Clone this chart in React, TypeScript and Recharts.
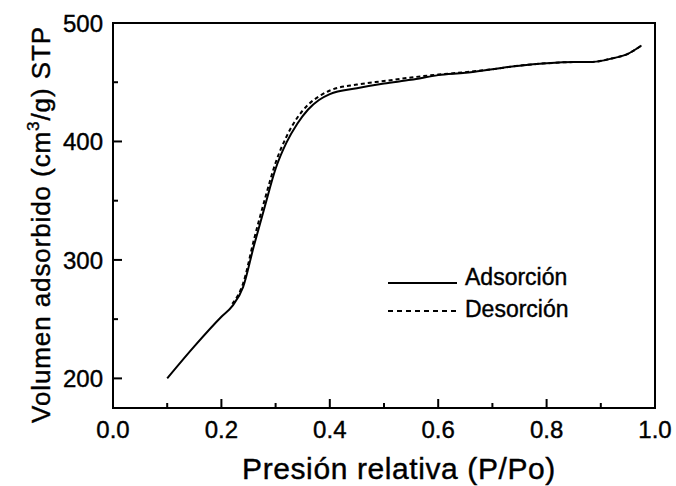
import React from 'react';
import { LineChart, Line, XAxis, YAxis, ReferenceArea, Legend } from 'recharts';

// isoterma de adsorción / desorción
const adsP = [0.1, 0.15, 0.2, 0.22, 0.24, 0.26, 0.28, 0.3, 0.32, 0.34, 0.36, 0.38, 0.4, 0.45, 0.5, 0.55, 0.6, 0.65, 0.7, 0.75, 0.8, 0.85, 0.88, 0.92, 0.95, 0.975];
const adsV = [200, 227, 252, 261, 277, 312, 345, 377, 399, 415, 427, 435, 440, 445, 449, 452, 456, 458, 461, 464, 466, 467, 467, 470, 474, 481];
const desP = [0.22, 0.24, 0.26, 0.28, 0.3, 0.32, 0.34, 0.36, 0.38, 0.4, 0.45, 0.5, 0.55, 0.6, 0.65, 0.7, 0.75, 0.8, 0.85, 0.88, 0.92, 0.95, 0.975];
const desV = [263, 280, 317, 351, 382, 404, 420, 431, 438, 443, 448, 451, 454, 456.5, 458.5, 461, 464, 466, 467, 467, 470, 474, 481];

const xTicks = [0, 0.1, 0.2, 0.3, 0.4, 0.5, 0.6, 0.7, 0.8, 0.9, 1.0];
const xMajor = [0, 0.2, 0.4, 0.6, 0.8, 1.0];
const yTicks = [200, 250, 300, 350, 400, 450, 500];
const yMajor = [200, 300, 400, 500];

const adsData = adsP.map((p, i) => ({ p, v: adsV[i] }));
const desData = desP.map((p, i) => ({ p, v: desV[i] }));

const FONT = '"Liberation Sans", Arial, sans-serif';
const txt = { fontFamily: FONT, fill: '#000', stroke: '#000', strokeWidth: 0.4 };

const isMajor = (list: number[], v: number) => list.some(m => Math.abs(m - v) < 1e-6);

const XTick = (props: any) => {
  const { x, y, payload } = props;
  const major = isMajor(xMajor, payload.value);
  return (
    <g>
      <line x1={x} x2={x} y1={y} y2={y - (major ? 9 : 5)} stroke="#000" strokeWidth={2} />
      {major && (
        <text x={x} y={y + 30} textAnchor="middle" fontSize={24} {...txt}>
          {payload.value.toFixed(1)}
        </text>
      )}
    </g>
  );
};

const YTick = (props: any) => {
  const { x, y, payload } = props;
  const major = isMajor(yMajor, payload.value);
  return (
    <g>
      <line x1={x} x2={x + (major ? 9 : 5)} y1={y} y2={y} stroke="#000" strokeWidth={2} />
      {major && (
        <text x={x - 10} y={y + 9} textAnchor="end" fontSize={24} {...txt}>
          {payload.value}
        </text>
      )}
    </g>
  );
};

const YTitle = (props: any) => {
  const vb = props.viewBox;
  const cx = 50;
  const cy = vb.y + vb.height / 2 + 9;
  return (
    <text
      x={cx}
      y={cy}
      transform={`rotate(-90 ${cx} ${cy})`}
      textAnchor="middle"
      fontSize={26}
      letterSpacing={0.9}
      {...txt}
    >
      Volumen adsorbido (cm<tspan dy={-11} fontSize={17}>3</tspan><tspan dy={11}>/g) STP</tspan>
    </text>
  );
};

const XTitle = (props: any) => {
  const vb = props.viewBox;
  return (
    <text x={vb.x + vb.width / 2 + 15} y={479} textAnchor="middle" fontSize={30} letterSpacing={0.6} {...txt}>
      Presión relativa (P/Po)
    </text>
  );
};

const LegendBox = () => (
  <svg width={200} height={64} style={{ display: 'block' }}>
    <line x1={8} x2={77} y1={23} y2={23} stroke="#000" strokeWidth={2} />
    <text x={85} y={25} fontSize={23} {...txt}>Adsorción</text>
    <line x1={8} x2={77} y1={51} y2={51} stroke="#000" strokeWidth={2} strokeDasharray="5 4" />
    <text x={85} y={57} fontSize={23} {...txt}>Desorción</text>
  </svg>
);

export default function App() {
  return (
    <div style={{ position: 'absolute', left: 0, top: 0, width: 676, height: 486, background: '#fff' }}>
      <LineChart width={676} height={486} margin={{ top: 23, right: 21, bottom: 0, left: 0 }}>
        <XAxis
          type="number"
          dataKey="p"
          domain={[0, 1]}
          ticks={xTicks}
          interval={0}
          allowDataOverflow
          height={78}
          tickSize={0}
          tickMargin={0}
          tickLine={false}
          axisLine={{ stroke: '#000', strokeWidth: 2 }}
          tick={<XTick />}
          label={{ content: <XTitle /> }}
        />
        <YAxis
          type="number"
          dataKey="v"
          domain={[175, 500]}
          ticks={yTicks}
          interval={0}
          allowDataOverflow
          width={113}
          tickSize={0}
          tickMargin={0}
          tickLine={false}
          axisLine={{ stroke: '#000', strokeWidth: 2 }}
          tick={<YTick />}
          label={{ content: <YTitle /> }}
        />
        <ReferenceArea x1={0} x2={1} y1={175} y2={500} stroke="#000" strokeWidth={2} fill="none" fillOpacity={0} />
        <Line
          data={desData}
          dataKey="v"
          name="Desorción"
          type="monotone"
          stroke="#000"
          strokeWidth={2}
          strokeDasharray="4 3"
          dot={false}
          isAnimationActive={false}
        />
        <Line
          data={adsData}
          dataKey="v"
          name="Adsorción"
          type="monotone"
          stroke="#000"
          strokeWidth={2}
          dot={false}
          isAnimationActive={false}
        />
        <Legend
          layout="vertical"
          align="center"
          verticalAlign="middle"
          content={<LegendBox />}
          wrapperStyle={{ position: 'absolute', left: 380, top: 260, width: 200 }}
        />
      </LineChart>
    </div>
  );
}
